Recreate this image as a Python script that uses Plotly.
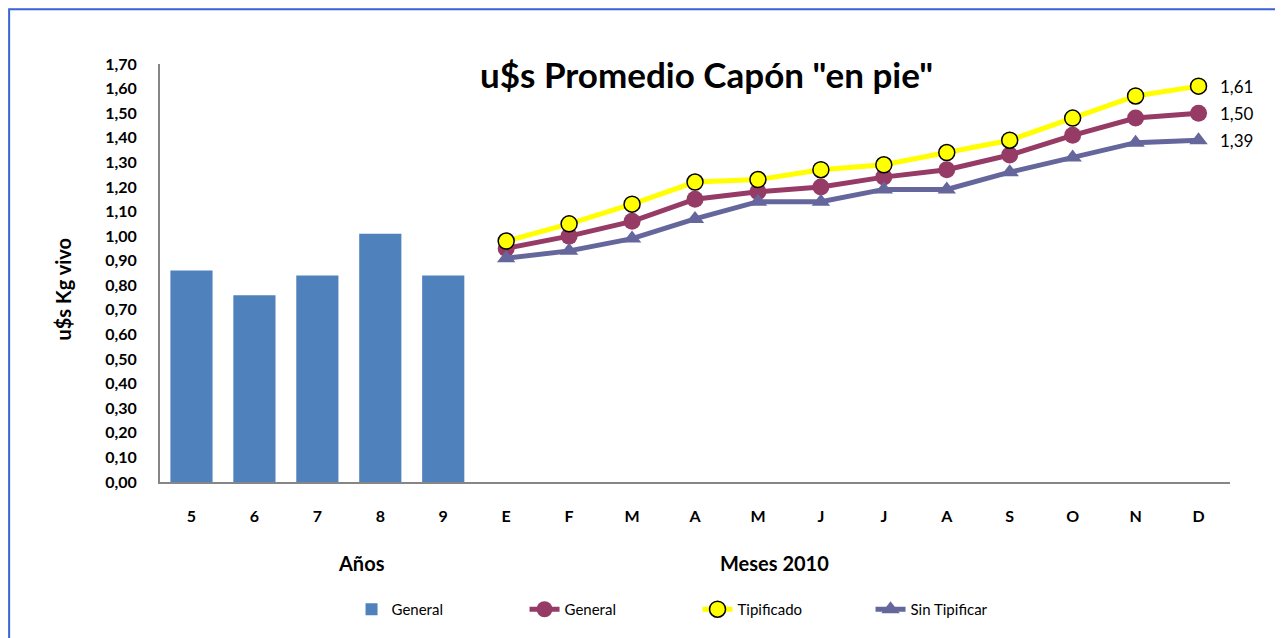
import plotly.graph_objs as go

# Datos
anios = ["5", "6", "7", "8", "9"]
general_anios = [0.86, 0.76, 0.84, 1.01, 0.84]

meses = ["E", "F", "M", "A", "M", "J", "J", "A", "S", "O", "N", "D"]
general_meses = [0.95, 1.00, 1.06, 1.15, 1.18, 1.20, 1.24, 1.27, 1.33, 1.41, 1.48, 1.50]
tipificado = [0.98, 1.05, 1.13, 1.22, 1.23, 1.27, 1.29, 1.34, 1.39, 1.48, 1.57, 1.61]
sin_tipificar = [0.91, 0.94, 0.99, 1.07, 1.14, 1.14, 1.19, 1.19, 1.26, 1.32, 1.38, 1.39]

FONT = "Lato"
x_anios = list(range(len(anios)))
x_meses = list(range(len(anios), len(anios) + len(meses)))
etiquetas = anios + meses

fig = go.Figure()
fig.add_trace(go.Bar(x=x_anios, y=general_anios, name="General",
                     marker=dict(color="#4F81BD", line=dict(width=0)), width=0.67))
fig.add_trace(go.Scatter(x=x_meses, y=general_meses, name="General", mode="lines+markers",
                         line=dict(color="#953B66", width=5),
                         marker=dict(symbol="circle", size=17, color="#953B66")))
fig.add_trace(go.Scatter(x=x_meses, y=tipificado, name="Tipificado", mode="lines+markers",
                         line=dict(color="#FFFF00", width=5),
                         marker=dict(symbol="circle", size=16, color="#FFFF00",
                                     line=dict(color="#000000", width=1.5))))
fig.add_trace(go.Scatter(x=x_meses, y=sin_tipificar, name="Sin Tipificar", mode="lines+markers",
                         line=dict(color="#65679C", width=5),
                         marker=dict(symbol="triangle-up", size=16, color="#65679C")))

# etiqueta solo en el ultimo punto de cada linea
for serie in [tipificado, general_meses, sin_tipificar]:
    fig.add_annotation(x=x_meses[-1], y=serie[-1], text=f"{serie[-1]:.2f}".replace(".", ","),
                       showarrow=False, xanchor="left", yanchor="middle", xshift=19,
                       font=dict(family=FONT, size=17, color="#000000"))

# la pagina tiene 8px de margen, por eso 1275x630
fig.update_layout(
    width=1275, height=630,
    margin=dict(l=152, r=53, t=56, b=152),
    paper_bgcolor="white", plot_bgcolor="white",
    separators=",.",
    font=dict(family=FONT, color="#000000"),
    showlegend=True,
    legend=dict(orientation="h", x=0.179, y=-0.305, xanchor="left", yanchor="middle",
                entrywidth=128, font=dict(family=FONT, size=15)),
    xaxis=dict(range=[-0.5, 16.5], tickvals=x_anios + x_meses, ticktext=etiquetas,
               showgrid=False, showline=True, linecolor="#868686", linewidth=2,
               ticks="", ticklabelstandoff=19, zeroline=False,
               tickfont=dict(family=FONT, size=16, color="#000000", weight="bold")),
    yaxis=dict(range=[0, 1.7], dtick=0.1, tickformat=".2f",
               showgrid=False, showline=True, linecolor="#868686", linewidth=2,
               ticks="", ticklabelstandoff=18, zeroline=False,
               tickfont=dict(family=FONT, size=16, color="#000000", weight="bold")),
)

anotaciones = [
    dict(text='u$s Promedio Capón "en pie"', x=0.511, y=0.975, size=35),
    dict(text="Años", x=0.188, y=-0.193, size=20),
    dict(text="Meses 2010", x=0.574, y=-0.193, size=20),
]
for a in anotaciones:
    fig.add_annotation(text=a["text"], xref="paper", yref="paper", x=a["x"], y=a["y"],
                       showarrow=False, xanchor="center", yanchor="middle",
                       font=dict(family=FONT, size=a["size"], color="#000000", weight="bold"))
fig.add_annotation(text="u$s Kg vivo", xref="paper", yref="paper", x=-0.091, y=0.462,
                   textangle=-90, showarrow=False, xanchor="center", yanchor="middle",
                   font=dict(family=FONT, size=20, color="#000000", weight="bold"))

# borde exterior del grafico
fig.add_shape(type="rect", xref="paper", yref="paper", x0=-0.141, y0=-0.5, x1=1.2, y1=1.131,
              line=dict(color="#3A62D4", width=2), fillcolor="rgba(0,0,0,0)", layer="below")

fig.write_html("out.html")
